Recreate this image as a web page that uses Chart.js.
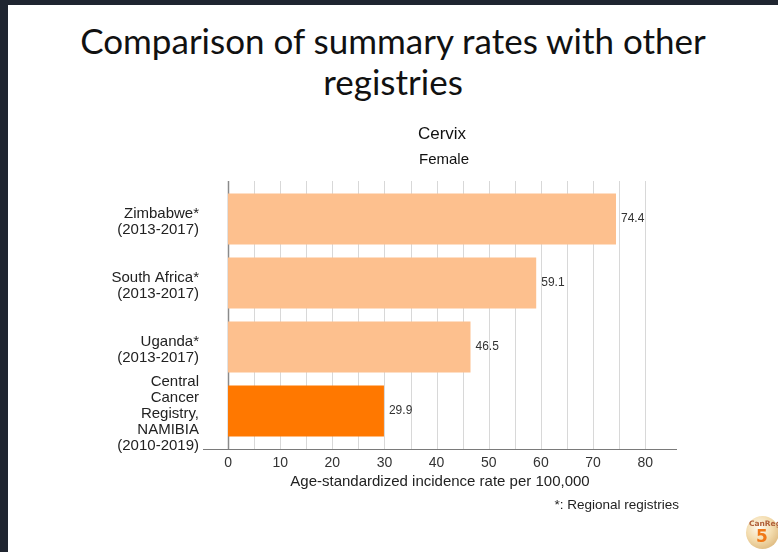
<!DOCTYPE html>
<html>
<head>
<meta charset="utf-8">
<script src="https://cdn.jsdelivr.net/npm/chart.js@4/dist/chart.umd.min.js"></script>
<style>
  html, body { margin: 0; padding: 0; background: #fff; }
  body { width: 778px; height: 552px; position: relative; overflow: hidden; }
  .frame-top { position: absolute; left: 0; top: 0; width: 778px; height: 5px; background: #1f2530; }
  .frame-left { position: absolute; left: 0; top: 0; width: 8px; height: 552px; background: #1f2530; }
  .slide-title {
    position: absolute; left: 8px; width: 770px; top: 20px; text-align: center;
    font-family: Lato, "Open Sans", sans-serif; font-size: 35px; line-height: 41px; color: #111;
  }
  #wrap { position: absolute; left: 0; top: 0; width: 778px; height: 552px; }
  .logo {
    position: absolute; left: 746px; top: 516px; width: 33px; height: 33px; border-radius: 50%;
    background: radial-gradient(circle at 40% 35%, #fffaf0 0%, #f3dcae 45%, #d2a664 100%);
    font-family: "DejaVu Sans", sans-serif; text-align: center;
  }
  .logo .a { position: absolute; left: -1px; top: 3px; width: 40px; font-size: 7.5px; font-weight: bold; color: #b0603a; }
  .logo .b { position: absolute; left: 10px; top: 10px; font-size: 17px; font-weight: bold; color: #f07818; }
</style>
</head>
<body>
<div class="frame-top"></div>
<div class="frame-left"></div>
<div class="slide-title">Comparison of summary rates with other<br>registries</div>
<div id="wrap"><canvas id="c" width="778" height="552"></canvas></div>
<div class="logo"><span class="a">CanReg</span><span class="b">5</span></div>
<script>
// Registries, top to bottom
const registries = [
  ['Zimbabwe*', '(2013-2017)'],
  ['South Africa*', '(2013-2017)'],
  ['Uganda*', '(2013-2017)'],
  ['Central', 'Cancer', 'Registry,', 'NAMIBIA', '(2010-2019)']
];
// Age-standardized incidence rate per 100,000
const rates = [74.4, 59.1, 46.5, 29.9];
const barColors = ['#fdc08e', '#fdc08e', '#fdc08e', '#ff7800'];
const xTicks = [0, 10, 20, 30, 40, 50, 60, 70, 80];
const gridValues = [5, 10, 15, 20, 25, 30, 35, 40, 45, 50, 55, 60, 65, 70, 75, 80];

const FONT = '"Liberation Sans", Arial, sans-serif';

const decor = {
  id: 'decor',
  beforeDatasetsDraw(chart) {
    const { ctx, chartArea: a, scales: { x } } = chart;
    const top = a.top - 6, bottom = a.bottom + 6;
    ctx.save();
    ctx.lineWidth = 1;
    ctx.strokeStyle = '#d8d8d8';
    gridValues.forEach(v => {
      const px = Math.round(x.getPixelForValue(v)) + 0.5;
      ctx.beginPath(); ctx.moveTo(px, top); ctx.lineTo(px, bottom); ctx.stroke();
    });
    // vertical axis at zero
    const x0 = Math.round(x.getPixelForValue(0)) + 0.5;
    ctx.strokeStyle = '#8a8a8a';
    ctx.lineWidth = 1.5;
    ctx.beginPath(); ctx.moveTo(x0, top); ctx.lineTo(x0, bottom); ctx.stroke();
    // horizontal axis
    ctx.strokeStyle = '#7a7a7a';
    ctx.lineWidth = 1;
    ctx.beginPath(); ctx.moveTo(a.left, bottom + 0.5); ctx.lineTo(a.right, bottom + 0.5); ctx.stroke();
    ctx.restore();
  },
  afterDatasetsDraw(chart) {
    const { ctx } = chart;
    const meta = chart.getDatasetMeta(0);
    ctx.save();
    ctx.font = '12px ' + FONT;
    ctx.fillStyle = '#333';
    ctx.textAlign = 'left';
    ctx.textBaseline = 'middle';
    meta.data.forEach((bar, i) => {
      ctx.fillText(rates[i].toFixed(1), bar.x + 5, bar.y);
    });
    ctx.restore();
  },
  afterDraw(chart) {
    const { ctx, chartArea: a } = chart;
    const cx = (a.left + a.right) / 2 + 2;
    ctx.save();
    ctx.fillStyle = '#111';
    ctx.textAlign = 'center';
    ctx.textBaseline = 'middle';
    ctx.font = '17px ' + FONT;
    ctx.fillText('Cervix', cx, 134);
    ctx.font = '15px ' + FONT;
    ctx.fillText('Female', cx + 2, 160);
    ctx.font = '13.5px ' + FONT;
    ctx.textAlign = 'right';
    ctx.fillStyle = '#222';
    ctx.fillText('*: Regional registries', a.right + 2, 505);
    ctx.restore();
  }
};

new Chart(document.getElementById('c'), {
  type: 'bar',
  data: {
    labels: registries,
    datasets: [{
      data: rates,
      backgroundColor: barColors,
      borderWidth: 0,
      barPercentage: 0.8,
      categoryPercentage: 1.0
    }]
  },
  options: {
    indexAxis: 'y',
    responsive: false,
    animation: false,
    layout: { padding: { left: 0, top: 187, right: 101, bottom: 0 } },
    plugins: { legend: { display: false }, tooltip: { enabled: false } },
    scales: {
      x: {
        type: 'linear',
        min: -4.8,
        max: 86.1,
        afterFit(scale) { scale.height = 109; },
        afterBuildTicks(scale) { scale.ticks = xTicks.map(v => ({ value: v })); },
        grid: { display: false, drawTicks: false },
        border: { display: false },
        ticks: { padding: 12, color: '#333', autoSkip: false, maxRotation: 0, font: { family: FONT, size: 14 } },
        title: {
          display: true,
          text: 'Age-standardized incidence rate per 100,000',
          color: '#222',
          font: { family: FONT, size: 15 },
          padding: { top: 0, bottom: 61 }
        }
      },
      y: {
        afterFit(scale) { scale.width = 203; },
        grid: { display: false, drawTicks: false },
        border: { display: false },
        ticks: { padding: 4, labelOffset: 3, color: '#222', autoSkip: false, font: { family: FONT, size: 15, lineHeight: 1.06 } }
      }
    }
  },
  plugins: [decor]
});
</script>
</body>
</html>
